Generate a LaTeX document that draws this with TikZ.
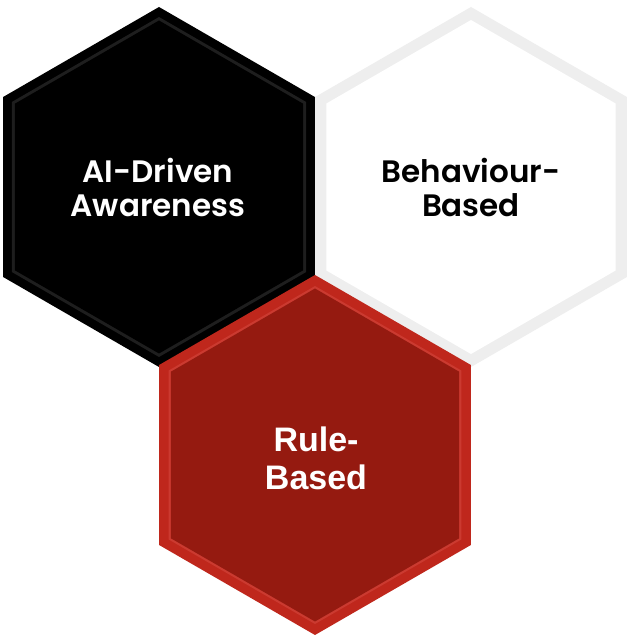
\documentclass[tikz,border=0pt]{standalone}
\usepackage{fontspec}
\setmainfont{Poppins}[BoldFont={Poppins SemiBold}]
\newfontfamily\rulefont{Liberation Sans}
\definecolor{ringblack}{HTML}{000000}
\definecolor{bandblack}{HTML}{1E1E1E}
\definecolor{ringwhite}{HTML}{EEEEEE}
\definecolor{ringred}{HTML}{BF271C}
\definecolor{bandred}{HTML}{CB3A30}
\definecolor{facered}{HTML}{951A10}
\newcommand{\hexshape}[1]{(90:#1) -- (30:#1) -- (-30:#1) -- (-90:#1) -- (-150:#1) -- (150:#1) -- cycle}
\begin{document}
\begin{tikzpicture}[x=1pt,y=1pt,
  hextext/.style={align=center, font=\bfseries\fontsize{31}{34}\selectfont, inner sep=0pt},
  ruletext/.style={align=center, font=\rulefont\bfseries\fontsize{34}{38}\selectfont, inner sep=0pt}]
\useasboundingbox (0,0) rectangle (629,641);
\fill[white] (0,0) rectangle (629,641);
% black hexagon
\coordinate (cb) at (159,454);
\begin{scope}[shift={(cb)}]
  \fill[ringblack] \hexshape{180};
  \fill[bandblack] \hexshape{170};
  \fill[black] \hexshape{166.5};
\end{scope}
\node[hextext, text=white] (ai) at (158,454) {AI-Driven\\Awareness};
% white hexagon
\coordinate (cw) at (471,454);
\begin{scope}[shift={(cw)}]
  \fill[ringwhite] \hexshape{180};
  \fill[white] \hexshape{167};
\end{scope}
\node[hextext, text=black] (beh) at (471,454) {Behaviour-\\Based};
% red hexagon
\coordinate (cr) at (315,186);
\begin{scope}[shift={(cr)}]
  \fill[ringred] \hexshape{180};
  \fill[bandred] \hexshape{169};
  \fill[facered] \hexshape{166.5};
\end{scope}
\node[ruletext, text=white] (rule) at (316,183) {Rule-\\Based};
\end{tikzpicture}
\end{document}
